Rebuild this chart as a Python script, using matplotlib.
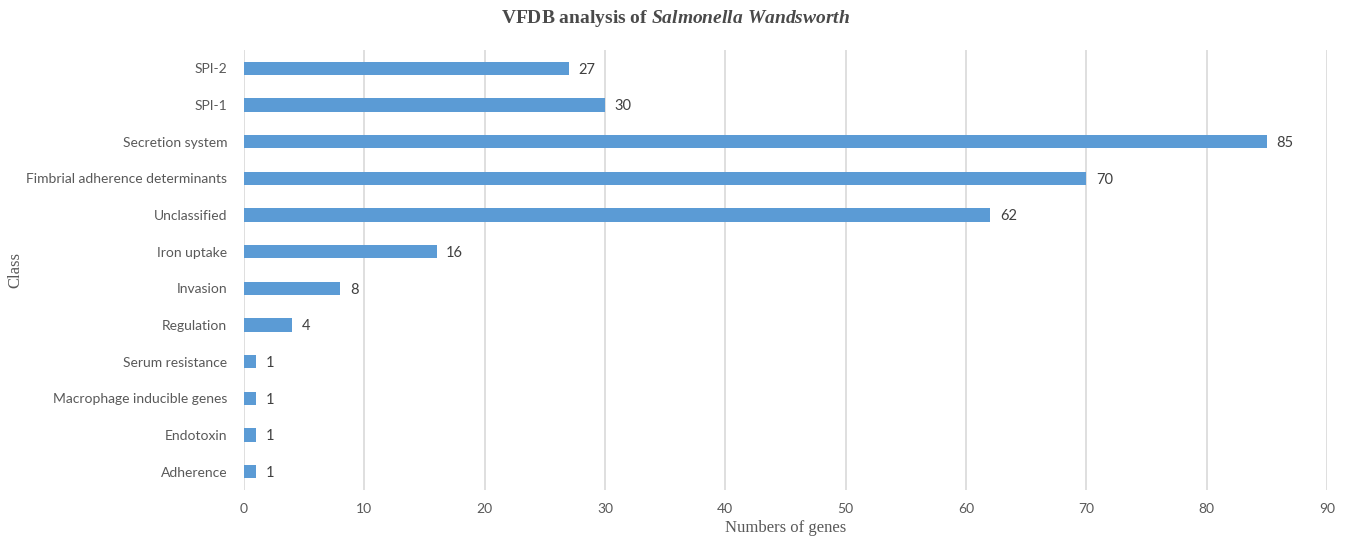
import matplotlib
matplotlib.use("Agg")
import matplotlib.pyplot as plt

# gene counts per virulence class, top to bottom
classes = ["SPI-2", "SPI-1", "Secretion system", "Fimbrial adherence determinants",
           "Unclassified", "Iron uptake", "Invasion", "Regulation", "Serum resistance",
           "Macrophage inducible genes", "Endotoxin", "Adherence"]
counts = [27, 30, 85, 70, 62, 16, 8, 4, 1, 1, 1, 1]
xticks = list(range(0, 91, 10))

bar_color = "#5B9BD5"
grid_color = "#D9D9D9"
tick_color = "#595959"

plt.rcParams["mathtext.fontset"] = "custom"
plt.rcParams["mathtext.it"] = "Liberation Serif:italic:bold"
plt.rcParams["mathtext.rm"] = "Liberation Serif:bold"

fig = plt.figure(figsize=(13.51, 5.42), dpi=100)
ax = fig.add_axes([0.1806, 0.0959, 0.8016, 0.8118])

ypos = list(range(len(classes)))
ax.barh(ypos, counts, height=0.36, color=bar_color, zorder=3)
ax.set_ylim(len(classes) - 0.5, -0.5)
ax.set_xlim(0, 90)

for y, v in zip(ypos, counts):
	ax.annotate(str(v), (v, y), xytext=(7, -1), textcoords="offset points",
		    va="center", ha="left", fontsize=10.5, family="Lato", color="#404040")

ax.set_yticks(ypos)
ax.set_yticklabels(classes, family="Lato", fontsize=10, color=tick_color)
ax.set_xticks(xticks)
ax.set_xticklabels([str(t) for t in xticks], family="Lato", fontsize=10, color=tick_color)
ax.tick_params(axis="both", length=0)
ax.tick_params(axis="x", pad=9)
ax.tick_params(axis="y", pad=12)

ax.grid(axis="x", color=grid_color, linewidth=1.2, zorder=0)
for s in ax.spines.values():
	s.set_visible(False)

ax.set_xlabel("Numbers of genes", family="Liberation Serif", fontsize=12, color=tick_color, labelpad=4)
ax.set_ylabel("Class", family="Liberation Serif", fontsize=12, color=tick_color, labelpad=2)
fig.text(0.5, 0.966, r"VFDB analysis of $\it{Salmonella\ Wandsworth}$", ha="center", va="center",
	 family="Liberation Serif", fontsize=14, fontweight="bold", color="#4a4a4a")

plt.savefig("out.png", dpi=100)
